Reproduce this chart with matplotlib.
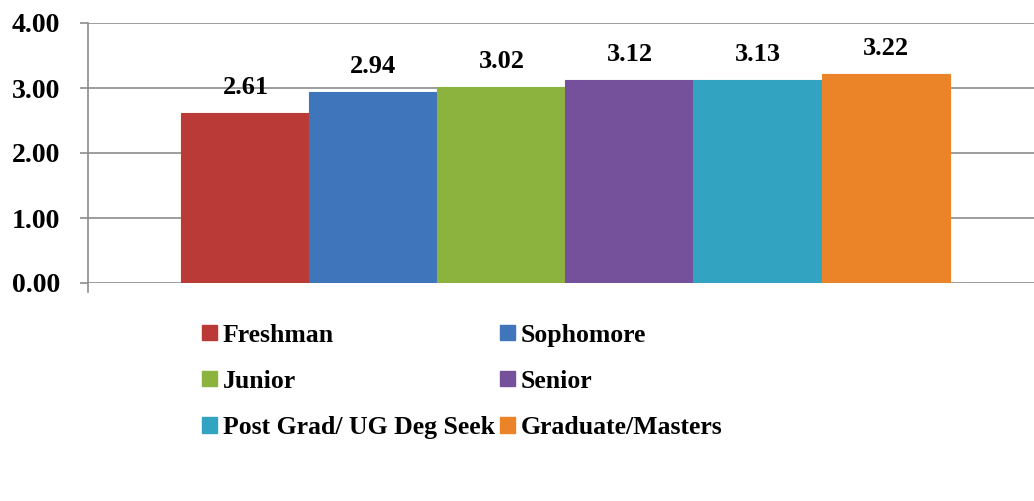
import matplotlib.pyplot as plt
from matplotlib.patches import Patch

# data
categories = ["Freshman", "Sophomore", "Junior", "Senior",
              "Post Grad/ UG Deg Seek", "Graduate/Masters"]
values = [2.61, 2.94, 3.02, 3.12, 3.13, 3.22]
colors = ["#B93A36", "#3F75BA", "#8DB33F", "#74519A", "#33A3C2", "#EB8428"]
yticks = [0, 1, 2, 3, 4]

plt.rcParams["font.family"] = ["Liberation Serif", "DejaVu Serif"]
plt.rcParams["font.weight"] = "bold"

fig = plt.figure(figsize=(10.34, 5.01), dpi=100)
ax = fig.add_axes([88 / 1034, 1 - 283 / 501, 1 - 88 / 1034, 260 / 501])

x = list(range(len(values)))
bars = ax.bar(x, values, width=1.0, color=colors, edgecolor=colors,
              linewidth=0.8, zorder=3)
for xi, v in zip(x, values):
    ax.annotate(f"{v:.2f}", (xi, v), xytext=(0, 10), textcoords="offset points",
                ha="center", va="bottom", fontsize=19, fontweight="bold", zorder=4)

ax.set_xlim(-1.23, 6.16)
ax.set_ylim(0, 4)
ax.set_yticks(yticks)
ax.set_yticklabels([f"{t:.2f}" for t in yticks], fontsize=20, fontweight="bold")
ax.set_xticks([])
ax.grid(axis="y", color="#8C8C8C", linewidth=1.2, zorder=0)
ax.tick_params(axis="y", length=6, width=1.2, color="#8C8C8C", pad=14)
for s in ["top", "right", "bottom"]:
    ax.spines[s].set_visible(False)
ax.spines["left"].set_color("#8C8C8C")
ax.spines["left"].set_linewidth(1.2)
ax.spines["left"].set_bounds(-0.14, 4)

# legend laid out row-wise like the original (matplotlib fills column-wise)
order = [0, 2, 4, 1, 3, 5]
handles = [Patch(facecolor=colors[i], edgecolor=colors[i]) for i in order]
labels = [categories[i] for i in order]
fig.legend(handles, labels, ncol=2, loc="center left",
           bbox_to_anchor=(202 / 1034, 0.239), frameon=False,
           prop={"size": 18.5, "weight": "bold"}, handlelength=0.6,
           handleheight=0.55, handletextpad=0.2, columnspacing=0.2,
           labelspacing=0.9, borderpad=0, borderaxespad=0)

fig.savefig("out.png", dpi=100)
